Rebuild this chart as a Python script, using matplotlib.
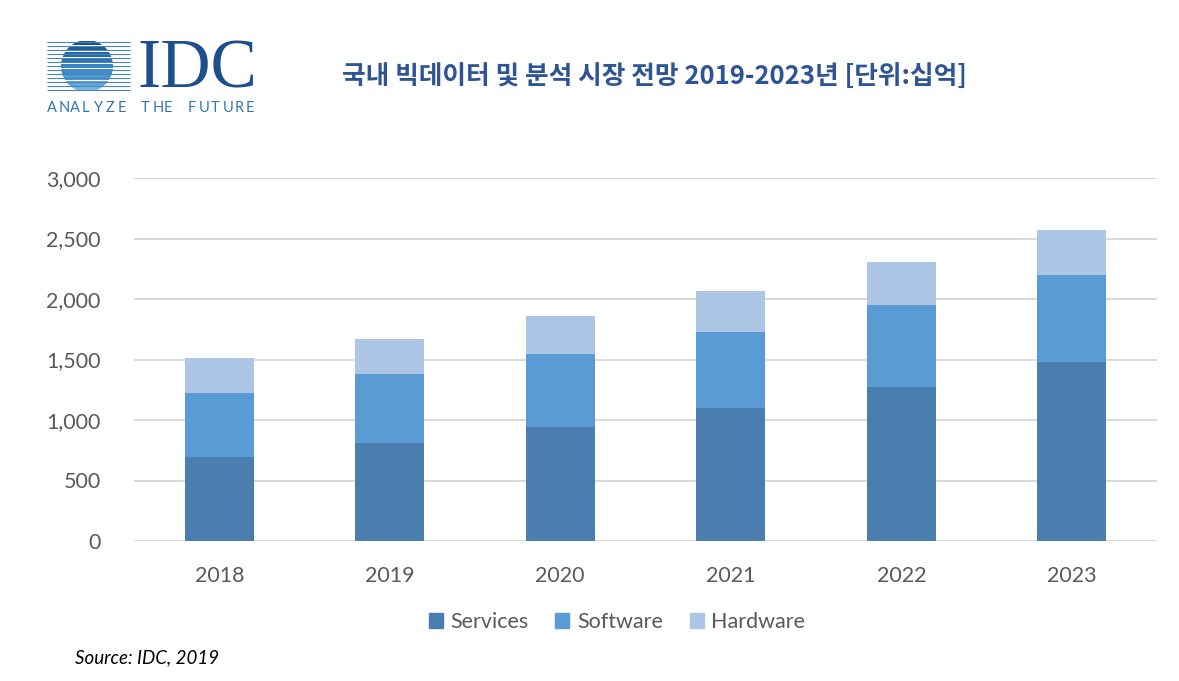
import matplotlib
matplotlib.use("Agg")
import matplotlib.pyplot as plt
from matplotlib.patches import Circle, Rectangle, Patch
import numpy as np

# values (billion KRW)
years = ["2018", "2019", "2020", "2021", "2022", "2023"]
services = [694, 810, 942, 1099, 1273, 1479]
software = [529, 570, 603, 628, 677, 719]
hardware = [289, 289, 315, 339, 356, 372]
y_ticks = [0, 500, 1000, 1500, 2000, 2500, 3000]

TITLE = "국내 빅데이터 및 분석 시장 전망 2019-2023년 [단위:십억]"
SOURCE = "Source: IDC, 2019"

C_SERV = "#4A7EAF"
C_SOFT = "#5A9BD5"
C_HARD = "#ADC6E5"
GRAY = "#595959"
GRID = "#D9D9D9"
LATIN = "Lato"

W, H = 1179, 681
fig = plt.figure(figsize=(W / 100, H / 100), dpi=100)

# ---- logo / header layer, in pixel coordinates ----
bg = fig.add_axes([0, 0, 1, 1])
bg.set_xlim(0, W)
bg.set_ylim(H, 0)
bg.axis("off")

cx, cy, r = 87, 66, 26
for yy in np.linspace(42, 90, 13):
    bg.plot([47, 130], [yy, yy], color="#4A84BE", lw=0.8, solid_capstyle="butt")
clip = Circle((cx, cy), r, transform=bg.transData, facecolor="none", edgecolor="none")
bg.add_patch(clip)
band_cols = ["#1B4F8A", "#1F5B9A", "#2566A8", "#2C72B5", "#3480C0", "#3F8DCA",
             "#4F9AD2", "#63A7D9", "#78B4DF"]
edges = np.linspace(cy - r, cy + r, len(band_cols) + 1)
for i, col in enumerate(band_cols):
    rect = Rectangle((cx - r, edges[i] + 0.6), 2 * r, edges[i + 1] - edges[i] - 1.2,
                     facecolor=col, edgecolor="none")
    bg.add_patch(rect)
    rect.set_clip_path(clip)

bg.text(137, 88, "IDC", fontsize=50, family="Liberation Serif", color="#1C4F8C",
        ha="left", va="baseline")
tag = "ANALYZE THE FUTURE"
xs = np.linspace(47, 246, len(tag))
for ch, xx in zip(tag, xs):
    bg.text(xx, 112, ch, fontsize=10.5, family=LATIN, color="#2E75B6",
            ha="left", va="baseline")

bg.text(654, 76, TITLE, fontsize=18.5, fontweight="bold",
        family=["Noto Sans CJK KR", "DejaVu Sans"], color="#2F5496",
        ha="center", va="center")
bg.text(75, 658, SOURCE, fontsize=13.5, style="italic", family=LATIN,
        color="black", ha="left", va="center")

# ---- bar chart ----
ax = fig.add_axes([134 / W, 1 - 541 / H, (1157 - 134) / W, (541 - 178) / H])
x = np.arange(len(years))
bw = 0.405
bottoms2 = np.array(services)
bottoms3 = bottoms2 + np.array(software)
ax.bar(x, services, bw, color=C_SERV, zorder=3)
ax.bar(x, software, bw, bottom=bottoms2, color=C_SOFT, zorder=3)
ax.bar(x, hardware, bw, bottom=bottoms3, color=C_HARD, zorder=3)

ax.set_xlim(-0.5, len(years) - 0.5)
ax.set_ylim(0, 3000)
ax.set_yticks(y_ticks)
ax.set_yticklabels([f"{v:,}" for v in y_ticks])
ax.set_xticks(x)
ax.set_xticklabels(years)
ax.yaxis.grid(True, color=GRID, lw=1.4, zorder=0)
ax.set_axisbelow(True)
for s in ax.spines.values():
    s.set_visible(False)
ax.tick_params(axis="both", length=0, labelsize=15.5, labelcolor=GRAY)
ax.tick_params(axis="y", pad=24)
ax.tick_params(axis="x", pad=18)
for lab in ax.get_xticklabels() + ax.get_yticklabels():
    lab.set_family(LATIN)

handles = [Patch(color=C_SERV, label="Services"),
           Patch(color=C_SOFT, label="Software"),
           Patch(color=C_HARD, label="Hardware")]
leg = fig.legend(handles=handles, loc="center", bbox_to_anchor=(617 / W, 1 - 622 / H),
                 ncol=3, frameon=False, handlelength=0.65, handleheight=0.65,
                 handletextpad=0.35, columnspacing=1.25,
                 prop={"family": LATIN, "size": 15.5})
for t in leg.get_texts():
    t.set_color(GRAY)

fig.savefig("out.png", dpi=100)
